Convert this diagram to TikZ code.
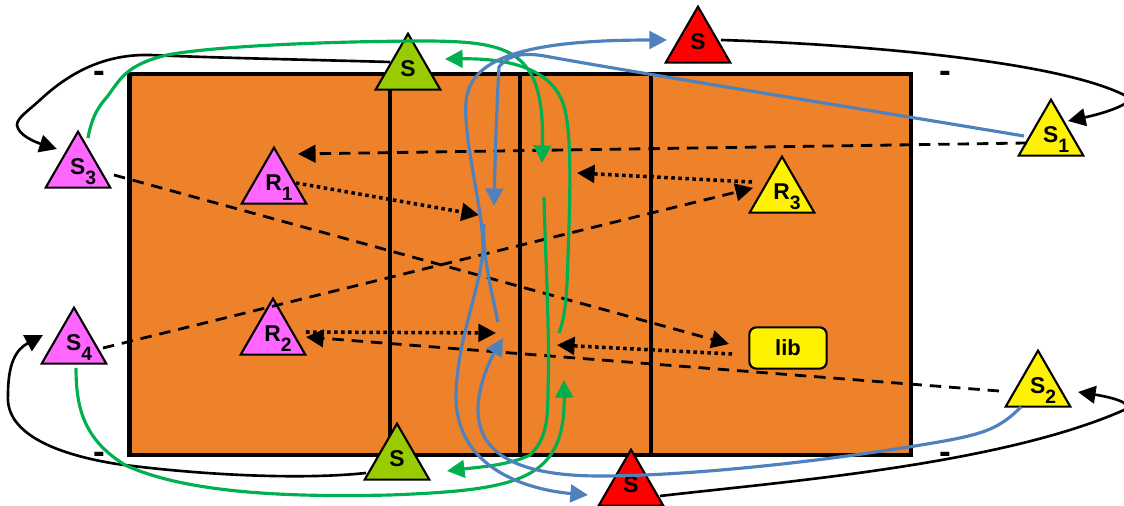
\documentclass[tikz,border=0pt]{standalone}
\usepackage{fontspec}
\setmainfont{Liberation Sans}
\usetikzlibrary{calc,arrows.meta,shapes.geometric}
\definecolor{courtorange}{RGB}{237,130,42}
\definecolor{tripink}{RGB}{255,102,255}
\definecolor{trigreen}{RGB}{153,204,0}
\definecolor{pathgreen}{RGB}{0,176,80}
\definecolor{pathblue}{RGB}{79,129,189}
\newcommand{\plainlab}[1]{\makebox[0pt]{\raisebox{-3pt}[0pt][0pt]{#1}}}
\newcommand{\sublab}[2]{\makebox[0pt]{\raisebox{-3pt}[0pt][0pt]{\hspace*{5.7pt}#1\raisebox{-6pt}{\fontsize{11}{11}\selectfont #2}}}}
\tikzset{
  player/.style={regular polygon,regular polygon sides=3,draw=black,line width=1.2pt,inner sep=0pt,
    minimum size=42.5pt,font=\fontsize{13}{13}\selectfont\bfseries},
  libbox/.style={draw=black,line width=1.2pt,fill=yellow,rounded corners=4pt,minimum width=44pt,
    minimum height=23.5pt,inner sep=0pt,font=\fontsize{12.5}{12.5}\selectfont\bfseries},
  tick/.style={inner sep=0pt,yshift=-1.6pt,font=\fontsize{20}{20}\selectfont\bfseries},
  tip/.style={-{Triangle[length=10pt,width=10pt]}},
  runpath/.style={tip,line width=1.5pt,black},
  servepath/.style={tip,line width=1.8pt,pathgreen},
  movepath/.style={tip,line width=1.8pt,pathblue},
  dashpath/.style={tip,line width=1.6pt,black,dash pattern=on 6.5pt off 4.5pt},
  dotpath/.style={tip,line width=2pt,black,dash pattern=on 2pt off 2pt}
}
\begin{document}
\begin{tikzpicture}[scale=0.2]
  \useasboundingbox (0,0) rectangle (112.4,-50.6);
  \fill [courtorange] (12.95,-7.4) rectangle (91.1,-45.5);
  \foreach \x/\w in {39.0/2pt,52.0/2.3pt,65.1/2pt}
    \draw [black,line width=\w] (\x,-7.4) -- (\x,-45.5);
  \draw [black,line width=2.4pt] (12.95,-7.4) rectangle (91.1,-45.5);

  \node (tickA) [tick] at (9.95,-7.4) {-};
  \node (tickB) [tick] at (94.55,-7.4) {-};
  \node (tickC) [tick] at (9.95,-45.5) {-};
  \node (tickD) [tick] at (94.55,-45.5) {-};

  \node (S1) [player,fill=yellow] at (105.1,-13.7) {\sublab{S}{1}};
  \node (S2) [player,fill=yellow] at (103.8,-38.8) {\sublab{S}{2}};
  \node (S3) [player,fill=tripink] at (7.8,-16.9) {\sublab{S}{3}};
  \node (S4) [player,fill=tripink] at (7.4,-34.5) {\sublab{S}{4}};
  \node (R1) [player,fill=tripink] at (27.4,-18.5) {\sublab{R}{1}};
  \node (R2) [player,fill=tripink] at (27.3,-33.6) {\sublab{R}{2}};
  \node (R3) [player,fill=yellow] at (78.2,-19.4) {\sublab{R}{3}};
  \node (Sa) [player,fill=trigreen] at (40.8,-7.1) {\plainlab{S}};
  \node (Sb) [player,fill=trigreen] at (39.7,-46.1) {\plainlab{S}};
  \node (Sc) [player,fill=red] at (69.8,-4.4) {\plainlab{S}};
  \node (Sd) [player,fill=red] at (63.1,-48.7) {\plainlab{S}};
  \node (lib) [libbox] at (78.8,-34.8) {lib};

  \coordinate (midA) at (47.9,-21.5);
  \coordinate (midB) at (57.7,-17.3);
  \coordinate (midC) at (49.6,-33.3);
  \coordinate (midD) at (55.7,-34.5);
  \coordinate (greenA) at (54.2,-16.3);
  \coordinate (greenB) at (54.4,-19.7);
  \coordinate (greenC) at (56.4,-38.0);
  \coordinate (greenD) at (55.9,-33.3);
  \coordinate (blueA) at (49.4,-20.6);
  \coordinate (blueB) at (50.3,-33.8);
  \coordinate (blueC) at (48.4,-22.4);
  \coordinate (blueD) at (49.8,-32.2);

  \draw [dashpath] ($(S1)+(-2.4,-0.6)$) -- ($(R1)+(2.4,3.1)$);
  \draw [dashpath] ($(S3)+(3.6,-0.6)$) -- ($(lib)+(-5.9,0.4)$);
  \draw [dashpath] ($(S4)+(2.9,-0.3)$) -- ($(R3)+(-2.9,0.6)$);
  \draw [dashpath] ($(S2)+(-3.9,-0.3)$) -- ($(R2)+(3.3,-0.1)$);

  \draw [dotpath] ($(R1)+(2.2,0.2)$) -- (midA);
  \draw [dotpath] ($(R3)+(-3.0,1.2)$) -- (midB);
  \draw [dotpath] ($(R2)+(3.3,0.4)$) -- (midC);
  \draw [dotpath] ($(lib)+(-5.6,-0.6)$) -- (midD);

  \draw [runpath] ($(Sa)+(-1.8,0.9)$) .. controls (32,-6.0) and (22,-5.8) .. (15,-5.5)
    .. controls (10.5,-5.4) and (7,-7.2) .. (4,-10)
    .. controls (2.8,-11.1) and (1.7,-11.8) .. (1.7,-12.5)
    .. controls (1.8,-13.5) and (3.5,-14.2) .. ($(S3)+(-2.1,2.0)$);
  \draw [runpath] ($(Sc)+(2.3,0.4)$) .. controls (85,-4.4) and (106,-6) .. (112.8,-9.7)
    .. controls (113.5,-10.2) and (111,-11.2) .. ($(S1)+(1.7,1.6)$);
  \draw [runpath] ($(Sd)+(2.9,-0.9)$) .. controls (78,-48.2) and (100,-46.5) .. (112.4,-41)
    .. controls (113.5,-40.3) and (111,-39.7) .. ($(S2)+(4.0,-0.4)$);
  \draw [runpath] ($(Sb)+(-3.1,-1.2)$) .. controls (30,-48) and (20,-47.5) .. (11.7,-46.4)
    .. controls (6,-45.5) and (0.5,-43.5) .. (0.8,-39.5)
    .. controls (0.8,-36.5) and (1.5,-35) .. ($(S4)+(-3.1,1.0)$);

  \draw [servepath] ($(S3)+(1.0,3.1)$) .. controls (9.2,-11.5) and (10,-10.5) .. (10.7,-9.7)
    .. controls (12,-8) and (12.5,-6.5) .. (16.7,-5.5)
    .. controls (22,-4.5) and (35,-4.1) .. (43,-4.1)
    .. controls (51,-4.2) and (54.5,-5) .. (greenA);
  \draw [servepath] (greenB) .. controls (54.5,-25) and (55,-33) .. (54.8,-39)
    .. controls (54.8,-42) and (54.6,-44) .. (53,-45.5)
    .. controls (51,-46.5) and (48,-46.7) .. ($(Sb)+(5.0,-1.0)$);
  \draw [servepath] ($(S4)+(0.2,-2.3)$) .. controls (7.6,-41) and (8.5,-44) .. (12.5,-46.5)
    .. controls (19,-49.5) and (30,-49.7) .. (39,-49.5)
    .. controls (52,-49) and (56.5,-48) .. (greenC);
  \draw [servepath] (greenD) .. controls (56.6,-31.5) and (56.7,-29) .. (56.8,-25.6)
    .. controls (57,-20) and (57.2,-14) .. (56.5,-11)
    .. controls (55.8,-8) and (53,-5.8) .. ($(Sa)+(3.7,1.2)$);

  \draw [movepath] ($(S1)+(-2.7,0.1)$) .. controls (88,-11.2) and (65,-7.5) .. (55,-5.7)
    .. controls (53,-5.3) and (51,-5.2) .. (49.9,-6.7)
    .. controls (49.7,-10) and (49.5,-16) .. (blueA);
  \draw [movepath] ($(S2)+(-1.7,-1.9)$) .. controls (100,-42.8) and (98.5,-43.3) .. (95,-44)
    .. controls (85,-45.8) and (70,-47.6) .. (60,-47.6)
    .. controls (53,-47.6) and (47.8,-46) .. (47.8,-41)
    .. controls (47.8,-38.5) and (49,-36) .. (blueB);
  \draw [pathblue,line width=1.8pt] (blueC) .. controls (48.2,-25) and (49,-28.5) .. (blueD);
  \draw [movepath,{Triangle[length=10pt,width=10pt]}-{Triangle[length=10pt,width=10pt]}]
    ($(Sd)+(-4.3,-0.8)$) .. controls (53,-49) and (45.5,-47) .. (45.6,-39.5)
    .. controls (45.7,-34) and (48,-29) .. (48.3,-25)
    .. controls (48.4,-21) and (46,-13) .. (46.7,-9.5)
    .. controls (47.5,-6) and (52,-4) .. ($(Sc)+(-3.1,0.4)$);
\end{tikzpicture}
\end{document}
